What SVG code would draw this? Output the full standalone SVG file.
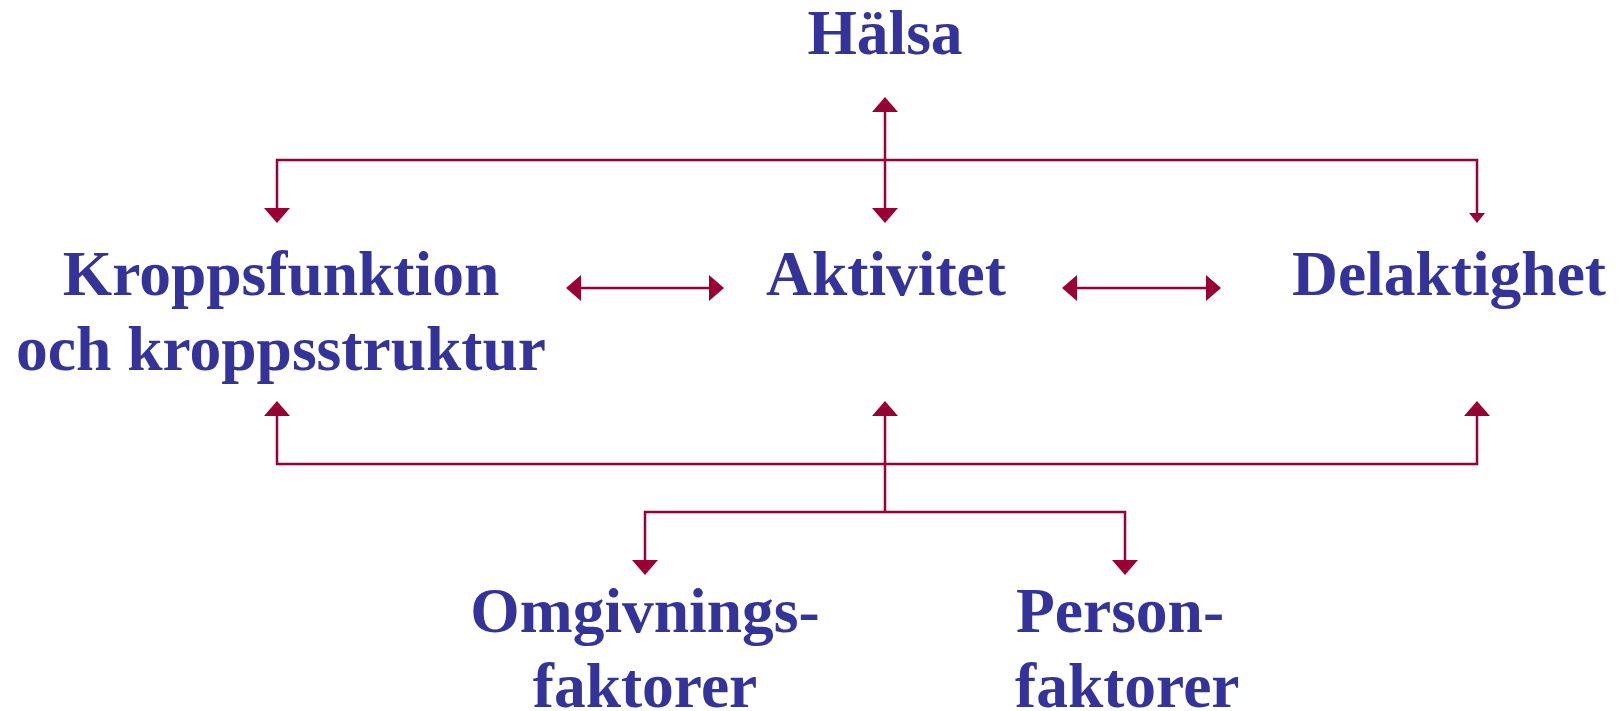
<svg xmlns="http://www.w3.org/2000/svg" width="1619" height="711" viewBox="0 0 1619 711">
  <style>
    .lbl { font-family: "Liberation Serif", "Times New Roman", serif; font-weight: bold; font-size: 63.5px; fill: #333399; }
    .mid { text-anchor: middle; }
    .wire { fill: none; stroke: #990033; stroke-width: 2.5; }
  </style>
  <defs>
    <!-- arrowheads: base sits on the path end, tip extends forward -->
    <marker id="head" viewBox="0 0 15 26" refX="0" refY="13" markerWidth="15" markerHeight="26" markerUnits="userSpaceOnUse" orient="auto-start-reverse">
      <path d="M0,0 L15,13 L0,26 Z" fill="#990033"/>
    </marker>
    <marker id="headSmall" viewBox="0 0 10 16" refX="0" refY="8" markerWidth="10" markerHeight="16" markerUnits="userSpaceOnUse" orient="auto-start-reverse">
      <path d="M0,0 L10,8 L0,16 Z" fill="#990033"/>
    </marker>
  </defs>

  <g id="connectors">
    <!-- Hälsa <-> Aktivitet -->
    <path class="wire" d="M885,112 V208" marker-start="url(#head)" marker-end="url(#head)"/>
    <!-- top bus to Kroppsfunktion and Delaktighet -->
    <path class="wire" d="M277,208 V160 H1477 V213" marker-start="url(#head)" marker-end="url(#headSmall)"/>
    <!-- horizontal links -->
    <path class="wire" d="M581,288 H709" marker-start="url(#head)" marker-end="url(#head)"/>
    <path class="wire" d="M1077,288 H1206" marker-start="url(#head)" marker-end="url(#head)"/>
    <!-- bottom bus from context factors -->
    <path class="wire" d="M277,416 V464 H1477 V416" marker-start="url(#head)" marker-end="url(#head)"/>
    <path class="wire" d="M885,512 V416" marker-end="url(#head)"/>
    <!-- fork to the two factor groups -->
    <path class="wire" d="M645,560 V512 H1125 V560" marker-start="url(#head)" marker-end="url(#head)"/>
  </g>

  <g id="halsa">
    <text class="lbl mid" x="885" y="54">Hälsa</text>
  </g>
  <g id="kroppsfunktion">
    <text class="lbl mid" x="281" y="295">Kroppsfunktion</text>
    <text class="lbl mid" x="281" y="370">och kroppsstruktur</text>
  </g>
  <g id="aktivitet">
    <text class="lbl mid" x="886" y="295">Aktivitet</text>
  </g>
  <g id="delaktighet">
    <text class="lbl mid" x="1449" y="295">Delaktighet</text>
  </g>
  <g id="omgivningsfaktorer">
    <text class="lbl mid" x="645" y="632">Omgivnings-</text>
    <text class="lbl mid" x="645" y="707">faktorer</text>
  </g>
  <g id="personfaktorer">
    <text class="lbl" x="1016" y="632">Person-</text>
    <text class="lbl" x="1015" y="707">faktorer</text>
  </g>
</svg>
